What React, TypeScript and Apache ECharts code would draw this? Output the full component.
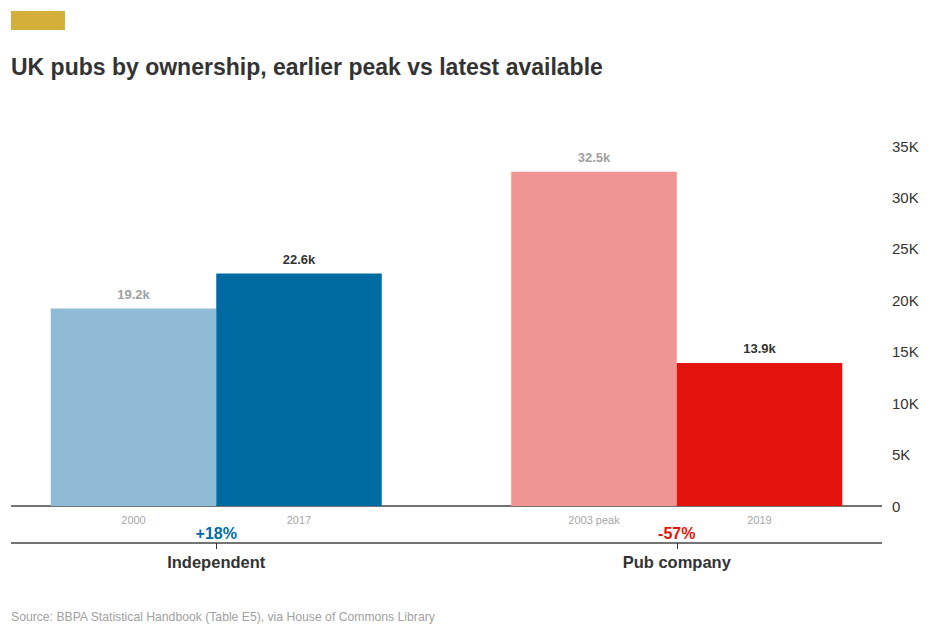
import React, { useEffect, useRef } from 'react';
import * as echarts from 'echarts';
import type { EChartsOption } from 'echarts';

// Values
const categories = ['Independent', 'Pub company'];
const earlierLabels = ['2000', '2003 peak'];
const latestLabels = ['2017', '2019'];
const earlierValues = [19200, 32500];
const latestValues = [22600, 13900];
const earlierColors = ['#8fbbd6', '#f19592'];
const latestColors = ['#006ba2', '#e3120b'];
const yTicks = [0, 5000, 10000, 15000, 20000, 25000, 30000, 35000];

const FONT = "'Liberation Sans', Arial, sans-serif";
// the chart div starts a little left of the page so the first band can begin off-screen
const SHIFT = 20;

const pctChange = (i: number) => {
  const p = Math.round(((latestValues[i] - earlierValues[i]) / earlierValues[i]) * 100);
  return (p > 0 ? '+' : '') + p + '%';
};

const kLabel = (v: number) => (v / 1000).toFixed(1) + 'k';

const App: React.FC = () => {
  const chartRef = useRef<HTMLDivElement>(null);

  useEffect(() => {
    if (!chartRef.current) return;
    const chart = echarts.init(chartRef.current, undefined, { renderer: 'svg' });

    const option: EChartsOption = {
      animation: false,
      backgroundColor: '#fff',
      textStyle: { fontFamily: FONT },
      title: {
        text: 'UK pubs by ownership, earlier peak vs latest available',
        left: 11 + SHIFT,
        top: 55,
        padding: 0,
        textStyle: { fontSize: 23, fontWeight: 'bold', color: '#333', fontFamily: FONT },
      },
      grid: { left: SHIFT - 14, right: 22, top: 146, bottom: 128, containLabel: false },
      xAxis: [
        {
          type: 'category',
          data: categories,
          axisLine: { show: false },
          axisTick: { show: false },
          axisLabel: {
            margin: 7.5,
            formatter: (_v: string, idx: number) =>
              `{y|${earlierLabels[idx]}}{y|${latestLabels[idx]}}\n{${
                latestValues[idx] >= earlierValues[idx] ? 'up' : 'down'
              }|${pctChange(idx)}}`,
            rich: {
              y: { width: 165.5, align: 'center', color: '#a6a6a6', fontSize: 11, lineHeight: 13, fontFamily: FONT },
              up: { align: 'center', color: '#006ba2', fontSize: 16, fontWeight: 'bold', lineHeight: 13, fontFamily: FONT },
              down: { align: 'center', color: '#e3120b', fontSize: 16, fontWeight: 'bold', lineHeight: 13, fontFamily: FONT },
            },
          },
        },
        {
          type: 'category',
          data: categories,
          position: 'bottom',
          offset: 37,
          axisLine: { show: false },
          axisTick: { show: true, alignWithLabel: true, length: 6, lineStyle: { color: '#333', width: 1 } },
          axisLabel: { margin: 10, fontSize: 16.5, fontWeight: 'bold', color: '#333', fontFamily: FONT },
        },
      ],
      yAxis: {
        type: 'value',
        position: 'right',
        offset: -25,
        min: yTicks[0],
        max: yTicks[yTicks.length - 1],
        interval: yTicks[1] - yTicks[0],
        axisLine: { show: false },
        axisTick: { show: false },
        splitLine: { show: false },
        axisLabel: {
          margin: 10,
          align: 'left',
          fontSize: 15,
          color: '#333',
          fontFamily: FONT,
          formatter: (v: number) => (v === 0 ? '0' : v / 1000 + 'K'),
        },
      },
      series: [
        {
          name: 'Earlier',
          type: 'bar',
          barWidth: 165.5,
          barGap: '0%',
          data: earlierValues.map((v, i) => ({ value: v, itemStyle: { color: earlierColors[i] } })),
          label: {
            show: true,
            position: 'top',
            distance: 8,
            fontSize: 13,
            fontWeight: 'bold',
            color: '#a0a0a0',
            fontFamily: FONT,
            formatter: (p: any) => kLabel(p.value),
          },
        },
        {
          name: 'Latest',
          type: 'bar',
          barWidth: 165.5,
          barGap: '0%',
          data: latestValues.map((v, i) => ({ value: v, itemStyle: { color: latestColors[i] } })),
          label: {
            show: true,
            position: 'top',
            distance: 8,
            fontSize: 13,
            fontWeight: 'bold',
            color: '#333',
            fontFamily: FONT,
            formatter: (p: any) => kLabel(p.value),
          },
        },
      ],
      graphic: [
        { type: 'rect', left: 11 + SHIFT, top: 11, shape: { width: 54, height: 19 }, style: { fill: '#d4b03b' } },
        { type: 'line', shape: { x1: 11 + SHIFT, y1: 506, x2: 882 + SHIFT, y2: 506 }, style: { stroke: '#444', lineWidth: 1.6 } },
        { type: 'line', shape: { x1: 11 + SHIFT, y1: 543, x2: 882 + SHIFT, y2: 543 }, style: { stroke: '#444', lineWidth: 1.6 } },
        {
          type: 'text',
          left: 11 + SHIFT,
          top: 611,
          style: {
            text: 'Source: BBPA Statistical Handbook (Table E5), via House of Commons Library',
            fontSize: 12.2,
            fill: '#a0a0a0',
            fontFamily: FONT,
          },
        },
      ],
    };

    chart.setOption(option);
    const handleResize = () => chart.resize();
    window.addEventListener('resize', handleResize);
    return () => {
      window.removeEventListener('resize', handleResize);
      chart.dispose();
    };
  }, []);

  return (
    <div
      ref={chartRef}
      style={{ position: 'fixed', left: -SHIFT + 'px', top: 0, width: 929 + SHIFT + 'px', height: '634px' }}
    />
  );
};

export default App;
